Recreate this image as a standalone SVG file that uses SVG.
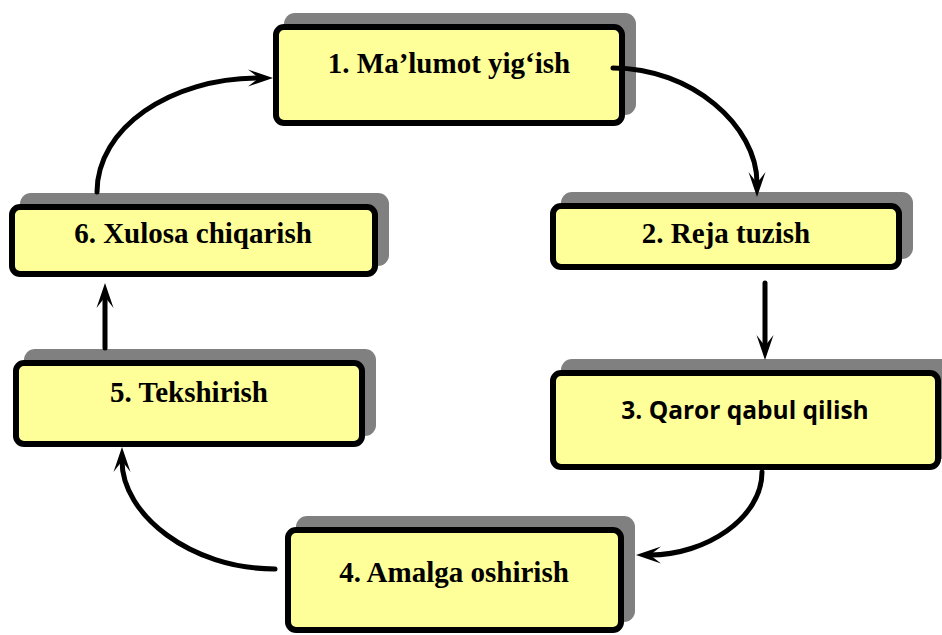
<svg xmlns="http://www.w3.org/2000/svg" width="942" height="635" viewBox="0 0 942 635">
  <style>
    .shadow { fill: #808080; }
    .box { fill: #FFFF99; stroke: #000; stroke-width: 6; }
    .lbl { font-family: "Liberation Serif", "Times New Roman", serif; font-weight: bold; font-size: 29px; fill: #000; text-anchor: middle; }
    .lbl-sans { font-family: "Open Sans", "Noto Sans", sans-serif; font-weight: bold; font-size: 24.5px; fill: #000; text-anchor: middle; }
    .conn { fill: none; stroke: #000; stroke-width: 5; stroke-linecap: round; marker-end: url(#arr); }
  </style>
  <defs>
    <marker id="arr" markerUnits="userSpaceOnUse" markerWidth="30" markerHeight="22" viewBox="-12 -11 30 22" refX="0" refY="0" orient="auto">
      <path d="M14,0 L-11,-8.5 L0,0 L-11,8.5 Z" fill="#000"/>
    </marker>
  </defs>
  <rect width="942" height="635" fill="#fff"/>

  <g id="node1">
    <rect class="shadow" x="284" y="13" width="352" height="102" rx="11"/>
    <rect class="box" x="276" y="27" width="346" height="96" rx="8"/>
    <text class="lbl" x="449" y="73">1. Ma’lumot yig‘ish</text>
  </g>
  <g id="node2">
    <rect class="shadow" x="561" y="192" width="352" height="67" rx="11"/>
    <rect class="box" x="553" y="206" width="346" height="61" rx="8"/>
    <text class="lbl" x="726" y="243">2. Reja tuzish</text>
  </g>
  <g id="node3">
    <rect class="shadow" x="561" y="359" width="400" height="100" rx="11"/>
    <rect class="box" x="553" y="373" width="385" height="94" rx="8"/>
    <text class="lbl-sans" x="745" y="419">3. Qaror qabul qilish</text>
  </g>
  <g id="node4">
    <rect class="shadow" x="296" y="516" width="339" height="106" rx="11"/>
    <rect class="box" x="288" y="530" width="333" height="100" rx="8"/>
    <text class="lbl" x="454" y="582">4. Amalga oshirish</text>
  </g>
  <g id="node5">
    <rect class="shadow" x="24" y="349" width="352" height="87" rx="11"/>
    <rect class="box" x="16" y="363" width="346" height="81" rx="8"/>
    <text class="lbl" x="189" y="402">5. Tekshirish</text>
  </g>
  <g id="node6">
    <rect class="shadow" x="20" y="193" width="369" height="73" rx="11"/>
    <rect class="box" x="12" y="207" width="363" height="67" rx="8"/>
    <text class="lbl" x="193" y="243">6. Xulosa chiqarish</text>
  </g>

  <g id="connectors">
    <path class="conn" d="M613,68 C692,68 757,126 757,183"/>
    <path class="conn" d="M765,283 L765,346"/>
    <path class="conn" d="M762,472 C762,518 706,555 650,555"/>
    <path class="conn" d="M275,569 C190,569 122,514 122,461"/>
    <path class="conn" d="M105,348 L105,297"/>
    <path class="conn" d="M97,192 C97,128 170,78 259,78"/>
  </g>
</svg>
